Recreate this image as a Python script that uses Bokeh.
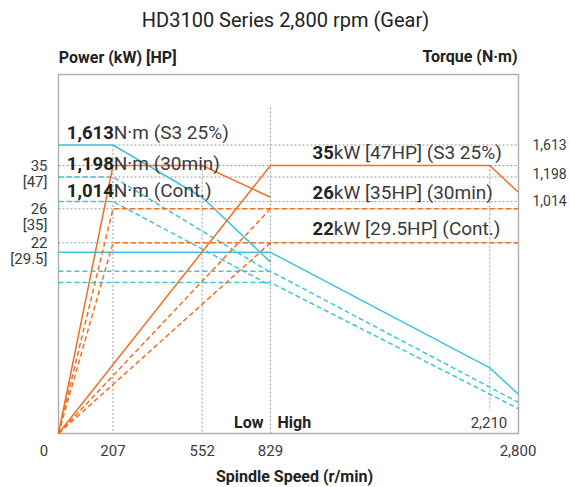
import numpy as np
from bokeh.plotting import figure
from bokeh.models import Range1d, Label
from bokeh.embed import file_html
from bokeh.resources import INLINE

# ---------------- data ----------------
TITLE = "HD3100 Series 2,800 rpm (Gear)"
LEFT_AXIS_TITLE = "Power (kW) [HP]"
RIGHT_AXIS_TITLE = "Torque (N·m)"
X_AXIS_TITLE = "Spindle Speed (r/min)"

SPEED_TICKS = [0, 207, 552, 829, 2210, 2800]
SPEED_TICK_LABELS = ["0", "207", "552", "829", "2,210", "2,800"]
POWER_TICKS = [35, 26, 22]
POWER_TICK_LABELS = ["35", "26", "22"]
HP_TICK_LABELS = ["[47]", "[35]", "[29.5]"]
TORQUE_TICKS = [1613, 1198, 1014]
TORQUE_TICK_LABELS = ["1,613", "1,198", "1,014"]

# power curves (kW) vs spindle speed (r/min)
pw_s3_low_rpm = [0, 207, 552, 829]
pw_s3_low_kw = [0, 35, 35, 28.4]
pw_s3_high_rpm = [0, 829, 2210, 2800]
pw_s3_high_kw = [0, 35, 35, 29.5]
pw_30_low_rpm = [0, 207, 829]
pw_30_low_kw = [0, 26, 26]
pw_30_high_rpm = [0, 829, 2800]
pw_30_high_kw = [0, 26, 26]
pw_ct_low_rpm = [0, 207, 829]
pw_ct_low_kw = [0, 22, 22]
pw_ct_high_rpm = [0, 829, 2800]
pw_ct_high_kw = [0, 22, 22]

# torque curves (N·m) vs spindle speed (r/min)
tq_s3_low_rpm = [0, 207, 552, 829]
tq_s3_low_nm = [1613, 1613, 1046, 749]
tq_s3_high_rpm = [0, 829, 2210, 2800]
tq_s3_high_nm = [792, 792, 287, 173]
tq_30_low_rpm = [0, 207, 829]
tq_30_low_nm = [1198, 1198, 704]
tq_30_high_rpm = [0, 829, 2800]
tq_30_high_nm = [709, 709, 137]
tq_ct_low_rpm = [0, 207, 829]
tq_ct_low_nm = [1014, 1014, 647]
tq_ct_high_rpm = [0, 829, 2800]
tq_ct_high_nm = [660, 660, 109]

TORQUE_NOTE_NUM = ["1,613", "1,198", "1,014"]
TORQUE_NOTE_TXT = ["N·m (S3 25%)", "N·m (30min)", "N·m (Cont.)"]
POWER_NOTE_NUM = ["35", "26", "22"]
POWER_NOTE_TXT = ["kW [47HP] (S3 25%)", "kW [35HP] (30min)", "kW [29.5HP] (Cont.)"]
GEAR_LABELS = ["Low", "High"]

# ---------------- schematic (piecewise) axis scales ----------------
# display units = pixels measured from the bottom-left corner of the plot box
BOX_LEFT, BOX_BOTTOM = 58, 54
CANVAS_W, CANVAS_H = 570, 487
FRAME_W, FRAME_H = 460, 359
SPEED_SCALE_PX = [0, 54.5, 143.7, 212, 431.3, 459.5]          # for SPEED_TICKS
POWER_SCALE_KW, POWER_SCALE_PX = [0, 22, 26, 35], [0, 190.7, 224.7, 268]
TORQUE_SCALE_NM, TORQUE_SCALE_PX = [0, 1014, 1198, 1613], [0, 232, 256.5, 288.5]


def xmap(r):
    return np.interp(r, SPEED_TICKS, SPEED_SCALE_PX)


def pmap(v):
    return np.interp(v, POWER_SCALE_KW, POWER_SCALE_PX)


def tmap(v):
    return np.interp(v, TORQUE_SCALE_NM, TORQUE_SCALE_PX)


# ---------------- styles ----------------
ORANGE = "#F26F21"
CYAN = "#3CC6DA"
GRID = "#9a9a9a"
BOX = "#b0b0b0"
TXT = "#222222"
TXT2 = "#3a3a3a"
FONT = "Roboto"
TITLE_FONT = "Roboto"
DASH = "5 3"

p = figure(width=CANVAS_W, height=CANVAS_H,
           x_range=Range1d(-BOX_LEFT, CANVAS_W - BOX_LEFT),
           y_range=Range1d(-BOX_BOTTOM, CANVAS_H - BOX_BOTTOM),
           output_backend="svg", toolbar_location=None,
           x_axis_location=None, y_axis_location=None,
           min_border=0, min_border_left=0, min_border_right=0,
           min_border_top=0, min_border_bottom=0)
p.grid.visible = False
p.outline_line_color = None
p.background_fill_color = "white"
p.border_fill_color = "white"

# plot box
p.quad(left=[0], right=[FRAME_W], bottom=[0], top=[FRAME_H], fill_color=None,
       line_color=BOX, line_width=1.5)

# dotted reference lines
hy = list(pmap(POWER_TICKS)) + list(tmap(TORQUE_TICKS))
p.segment(x0=[0] * len(hy), y0=hy, x1=[FRAME_W] * len(hy), y1=hy,
          line_color=GRID, line_dash="2 2", line_width=1)
DIVIDER_TOP = 326
LABEL_GAP_2210 = 23
vx = xmap([207, 552, 829, 2210])
vtop = [tmap(1613), pmap(35), DIVIDER_TOP, pmap(35)]
vbot = [0, 0, 0, LABEL_GAP_2210]
p.segment(x0=vx, y0=vtop, x1=vx, y1=vbot, line_color=GRID, line_dash="2 2", line_width=1)

# torque curves
p.line(xmap(tq_s3_low_rpm), tmap(tq_s3_low_nm), line_color=CYAN, line_width=1.5)
p.line(xmap(tq_s3_high_rpm), tmap(tq_s3_high_nm), line_color=CYAN, line_width=1.5)
for r, v in [(tq_30_low_rpm, tq_30_low_nm), (tq_30_high_rpm, tq_30_high_nm),
             (tq_ct_low_rpm, tq_ct_low_nm), (tq_ct_high_rpm, tq_ct_high_nm)]:
    p.line(xmap(r), tmap(v), line_color=CYAN, line_width=1.5, line_dash=DASH)

# power curves
p.line(xmap(pw_s3_low_rpm), pmap(pw_s3_low_kw), line_color=ORANGE, line_width=1.5)
p.line(xmap(pw_s3_high_rpm), pmap(pw_s3_high_kw), line_color=ORANGE, line_width=1.5)
for r, v in [(pw_30_low_rpm, pw_30_low_kw), (pw_30_high_rpm, pw_30_high_kw),
             (pw_ct_low_rpm, pw_ct_low_kw), (pw_ct_high_rpm, pw_ct_high_kw)]:
    p.line(xmap(r), pmap(v), line_color=ORANGE, line_width=1.5, line_dash=DASH)


def lab(x, y, text, size, style="normal", align="left", baseline="middle", color=TXT, font=FONT):
    p.add_layout(Label(x=float(x), y=float(y), text=text, text_font=font,
                       text_font_size=f"{size}px", text_font_style=style,
                       text_align=align, text_baseline=baseline, text_color=color))


# titles
lab(227, 414, TITLE, 20, align="center", color=TXT, font=TITLE_FONT)
lab(0.3, 376.5, LEFT_AXIS_TITLE, 16, style="bold")
lab(459, 377.5, RIGHT_AXIS_TITLE, 16, style="bold", align="right")
lab(236, -43, X_AXIS_TITLE, 16, style="bold", align="center")

# bottom tick labels
X_LABEL_DX = [-14.5, 0, 0, 0, None, 0]
for t, s, dx in zip(SPEED_TICKS, SPEED_TICK_LABELS, X_LABEL_DX):
    if dx is None:
        lab(xmap(t) + 17.5, 11, s, 15, align="right", color=TXT2)
    else:
        lab(xmap(t) + dx, -17, s, 15, align="center", color=TXT2)

# gear labels
lab(xmap(829) - 7, 11, GEAR_LABELS[0], 16, style="bold", align="right")
lab(xmap(829) + 7, 11, GEAR_LABELS[1], 16, style="bold", align="left")

# left (power) tick labels
for v, s, h in zip(POWER_TICKS, POWER_TICK_LABELS, HP_TICK_LABELS):
    lab(-11, pmap(v) + 0.5, s, 15, align="right", baseline="alphabetic", color=TXT2)
    lab(-11, pmap(v) - 16.5, h, 15, align="right", baseline="alphabetic", color=TXT2)

# right (torque) tick labels
TORQUE_LABEL_DY = [1, 4, 1]
for v, s, dy in zip(TORQUE_TICKS, TORQUE_TICK_LABELS, TORQUE_LABEL_DY):
    lab(474, tmap(v) + dy, s, 14, align="left", baseline="alphabetic", color=TXT2)

# curve notes
TORQUE_NOTE_DY = [12.8, 13.2, 11]
for v, n, t, dy in zip(TORQUE_TICKS, TORQUE_NOTE_NUM, TORQUE_NOTE_TXT, TORQUE_NOTE_DY):
    lab(55.3, tmap(v) + dy, n, 18.5, style="bold", align="right")
    lab(55.3, tmap(v) + dy, t, 19, align="left", color=TXT2)
POWER_NOTE_DY = [13.3, 16.3, 14.8]
for v, n, t, dy in zip(POWER_TICKS, POWER_NOTE_NUM, POWER_NOTE_TXT, POWER_NOTE_DY):
    lab(275.3, pmap(v) + dy, n, 18.5, style="bold", align="right")
    lab(275.3, pmap(v) + dy, t, 19, align="left", color=TXT2)

open("out.html", "w").write(file_html(p, INLINE))
